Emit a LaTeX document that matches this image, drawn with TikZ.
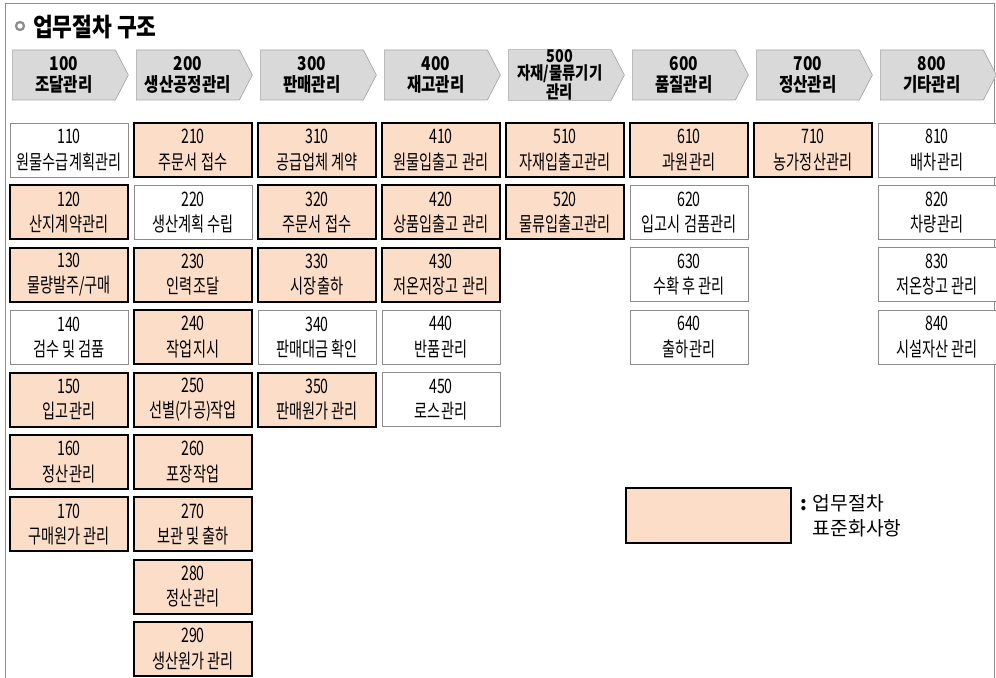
\documentclass[tikz,border=0pt]{standalone}
\usepackage{fontspec}
\usepackage{tikz}
\usetikzlibrary{shapes.symbols,positioning}
\newfontfamily\krmain{Noto Sans CJK KR}
\newfontfamily\krtitle[FakeStretch=0.85]{Noto Sans CJK KR}
\newfontfamily\krbox[FakeStretch=0.71]{Noto Sans CJK KR}
\newfontfamily\krhead[FakeStretch=0.82]{Noto Sans CJK KR}
\definecolor{stdpeach}{RGB}{252,221,199}
\definecolor{stagegray}{RGB}{217,217,217}
\tikzset{
  proc-frame/.style={draw=black!45, line width=0.6pt},
  proc-stage/.style={shape=signal, signal to=east, signal from=nowhere, signal pointer angle=125,
    draw=black!35, fill=stagegray, line width=0.5pt, minimum width=2.9cm, minimum height=1.25cm,
    inner sep=0pt, align=center, anchor=west, font=\krhead\bfseries\fontsize{13.5pt}{14.5pt}\selectfont},
  proc-stage-tight/.style={proc-stage, font=\krhead\bfseries\fontsize{12.5pt}{11.8pt}\selectfont},
  proc-task/.style={draw=black!45, fill=white, line width=0.5pt, minimum width=2.95cm, minimum height=1.35cm,
    inner sep=0pt, align=center, font=\krbox\fontsize{14.2pt}{18pt}\selectfont},
  proc-std/.style={proc-task, draw=black, fill=stdpeach, line width=1.5pt}
}
\begin{document}
\begin{tikzpicture}
  \useasboundingbox (0,0) rectangle (24.9,16.95);
  \draw[proc-frame] (0.125,0) |- (24.85,16.875) -- (24.85,0);
  \node[circle, draw=black!45, line width=1.6pt, minimum size=0.2cm, inner sep=0pt] (bullet) at (0.5,16.3) {};
  \node[font=\krtitle\bfseries\fontsize{18pt}{20pt}\selectfont, anchor=west, inner sep=0pt] (title) at (0.82,16.27) {업무절차 구조};
  \node[proc-stage] (stage100) at (0.3,15.075) {100\\조달관리};
  \node[proc-stage] (stage200) at (3.4,15.075) {200\\생산공정관리};
  \node[proc-stage] (stage300) at (6.5,15.075) {300\\판매관리};
  \node[proc-stage] (stage400) at (9.6,15.075) {400\\재고관리};
  \node[proc-stage-tight] (stage500) at (12.7,15.075) {500\\자재/물류기기\\관리};
  \node[proc-stage] (stage600) at (15.8,15.075) {600\\품질관리};
  \node[proc-stage] (stage700) at (18.9,15.075) {700\\정산관리};
  \node[proc-stage] (stage800) at (22.0,15.075) {800\\기타관리};
  \node[proc-task] (task110) at (1.725,13.2) {110\\원물수급계획관리};
  \node[proc-std] (task120) at (1.725,11.64) {120\\산지계약관리};
  \node[proc-std] (task130) at (1.725,10.08) {130\\물량발주/구매};
  \node[proc-task] (task140) at (1.725,8.52) {140\\검수 및 검품};
  \node[proc-std] (task150) at (1.725,6.96) {150\\입고관리};
  \node[proc-std] (task160) at (1.725,5.4) {160\\정산관리};
  \node[proc-std] (task170) at (1.725,3.84) {170\\구매원가 관리};
  \node[proc-std] (task210) at (4.825,13.2) {210\\주문서 접수};
  \node[proc-task] (task220) at (4.825,11.64) {220\\생산계획 수립};
  \node[proc-std] (task230) at (4.825,10.08) {230\\인력조달};
  \node[proc-std] (task240) at (4.825,8.52) {240\\작업지시};
  \node[proc-std] (task250) at (4.825,6.96) {250\\선별(가공)작업};
  \node[proc-std] (task260) at (4.825,5.4) {260\\포장작업};
  \node[proc-std] (task270) at (4.825,3.84) {270\\보관 및 출하};
  \node[proc-std] (task280) at (4.825,2.28) {280\\정산관리};
  \node[proc-std] (task290) at (4.825,0.72) {290\\생산원가 관리};
  \node[proc-std] (task310) at (7.925,13.2) {310\\공급업체 계약};
  \node[proc-std] (task320) at (7.925,11.64) {320\\주문서 접수};
  \node[proc-std] (task330) at (7.925,10.08) {330\\시장출하};
  \node[proc-task] (task340) at (7.925,8.52) {340\\판매대금 확인};
  \node[proc-std] (task350) at (7.925,6.96) {350\\판매원가 관리};
  \node[proc-std] (task410) at (11.025,13.2) {410\\원물입출고 관리};
  \node[proc-std] (task420) at (11.025,11.64) {420\\상품입출고 관리};
  \node[proc-std] (task430) at (11.025,10.08) {430\\저온저장고 관리};
  \node[proc-task] (task440) at (11.025,8.52) {440\\반품관리};
  \node[proc-task] (task450) at (11.025,6.96) {450\\로스관리};
  \node[proc-std] (task510) at (14.125,13.2) {510\\자재입출고관리};
  \node[proc-std] (task520) at (14.125,11.64) {520\\물류입출고관리};
  \node[proc-std] (task610) at (17.225,13.2) {610\\과원관리};
  \node[proc-task] (task620) at (17.225,11.64) {620\\입고시 검품관리};
  \node[proc-task] (task630) at (17.225,10.08) {630\\수확 후 관리};
  \node[proc-task] (task640) at (17.225,8.52) {640\\출하관리};
  \node[proc-std] (task710) at (20.325,13.2) {710\\농가정산관리};
  \node[proc-task] (task810) at (23.425,13.2) {810\\배차관리};
  \node[proc-task] (task820) at (23.425,11.64) {820\\차량관리};
  \node[proc-task] (task830) at (23.425,10.08) {830\\저온창고 관리};
  \node[proc-task] (task840) at (23.425,8.52) {840\\시설자산 관리};
  \node[proc-std, minimum width=4.125cm, minimum height=1.375cm] (legend) at (17.7125,4.0625) {};
  \node[right=0.2cm of legend, inner sep=0pt, align=left, font=\krmain\fontsize{13.7pt}{17.8pt}\selectfont] (legendtext) {{\bfseries :} 업무절차\\\hphantom{{\bfseries :} }표준화사항};
\end{tikzpicture}
\end{document}
